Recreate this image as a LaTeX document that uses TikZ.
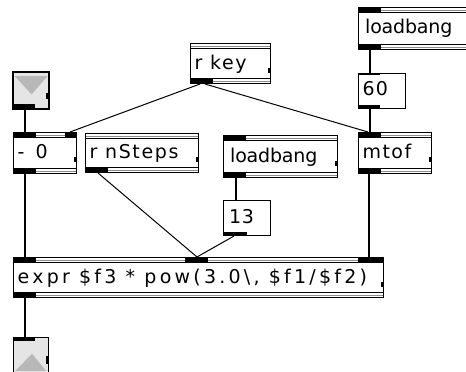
\documentclass[tikz,border=0pt]{standalone}
\usepackage{fontspec}
\newfontfamily\maxfont{DejaVu Sans}
\usetikzlibrary{calc}
\definecolor{bandgrey}{gray}{0.55}
\definecolor{iofill}{gray}{0.90}
\definecolor{iotri}{gray}{0.72}
\tikzset{
  objbox/.style={draw=black, line width=1pt, fill=white, anchor=north west, inner sep=0pt,
    path picture={
      \draw[bandgrey, line width=0.8pt] ([yshift=-2.5pt]path picture bounding box.north west) -- ([yshift=-2.5pt]path picture bounding box.north east);
      \draw[black, line width=0.9pt] ([yshift=-5pt]path picture bounding box.north west) -- ([yshift=-5pt]path picture bounding box.north east);
      \draw[bandgrey, line width=0.8pt] ([yshift=2.5pt]path picture bounding box.south west) -- ([yshift=2.5pt]path picture bounding box.south east);
      \draw[black, line width=0.9pt] ([yshift=5pt]path picture bounding box.south west) -- ([yshift=5pt]path picture bounding box.south east);
    }},
  numbox/.style={draw=black, line width=1pt, fill=white, anchor=north west, inner sep=0pt},
  iobox/.style={draw=black, line width=1.2pt, fill=iofill, anchor=north west, inner sep=0pt},
  lbl/.style={anchor=base west, inner sep=0pt, font={\maxfont\fontsize{19pt}{21pt}\selectfont}},
  wire/.style={draw=black, line width=1.3pt},
  diag/.style={draw=black, line width=1pt},
}
\newcommand\mobj[7]{%
  \node[objbox, minimum width=#4, minimum height=#5] (#1) at (#2,#3) {};
  \fill ($(#1.north east)!0.6!(#1.south east)+(-3.5,0)$) rectangle ($(#1.north east)!0.72!(#1.south east)$);
  \fill (#1.south west) rectangle ++(23,-5.5);
  \node[lbl] (#1-t) at ([xshift=4.5pt,yshift=-5.5pt]#1.west) {\addfontfeature{LetterSpace=#6}#7};
}
\newcommand\minlet[3]{\fill ([xshift=#2pt]#1.north west) rectangle ++(#3,5);}
\begin{document}
\begin{tikzpicture}[x=1pt,y=-1pt]
\fill[white] (0,0) rectangle (466,372);
\useasboundingbox (0,0) rectangle (466,372);
% objects
\mobj{minus}{13}{132}{63}{41}{26}{- 0}
\minlet{minus}{0}{23}
\minlet{minus}{52}{11}
\mobj{rns}{85}{133}{113}{39}{8.5}{r nSteps}
\mobj{rkey}{190}{43}{80}{40}{8.6}{r key}
\mobj{lbtop}{358}{7}{120}{42}{-1}{\hspace{2.5pt}loadbang}
\minlet{lbtop}{0}{23}
\mobj{mtof}{358}{132}{73}{41}{7.5}{mtof}
\minlet{mtof}{0}{23}
\mobj{lbmid}{223}{135}{114}{42}{-1}{\hspace{2.5pt}loadbang}
\minlet{lbmid}{0}{23}
\mobj{expr}{13}{257}{370}{40}{17}{expr \$f3 * pow(3.0\textbackslash, \$f1/\$f2)}
\minlet{expr}{0}{23}
\minlet{expr}{172}{23}
\minlet{expr}{345}{25}
% number boxes
\node[numbox, minimum width=47, minimum height=35] (n60) at (358,73) {};
\fill (n60.south west) rectangle ++(22,-4);
\fill (n60.north west) rectangle ++(22,1.5);
\node[lbl] (n60-t) at ([xshift=4.5pt,yshift=-4.5pt]n60.west) {\addfontfeature{LetterSpace=6}60};
\node[numbox, minimum width=47, minimum height=35] (n13) at (223,200) {};
\fill (n13.south west) rectangle ++(24,-4);
\node[lbl] (n13-t) at ([xshift=6pt,yshift=-5.5pt]n13.west) {\addfontfeature{LetterSpace=3}13};
% inlet object
\node[iobox, minimum width=35, minimum height=36] (inl) at (13,72) {};
\fill[iotri] ([shift={(1.5,4)}]inl.north west) -- ($(inl.north)!0.6!(inl.south)+(0.5,0)$) -- ([shift={(-1.5,4)}]inl.north east) -- cycle;
\draw[line width=1.2pt] (inl.north west) rectangle (inl.south east);
\fill (inl.south west) rectangle ++(22,-5);
\fill ($(inl.north east)!0.56!(inl.south east)+(-3.5,0)$) rectangle ($(inl.north east)!0.72!(inl.south east)$);
% outlet object
\node[iobox, minimum width=35, minimum height=36] (outl) at (13,337) {};
\fill[iotri] ([shift={(2,-3)}]outl.south west) -- ($(outl.north)!0.45!(outl.south)+(1,0)$) -- ([shift={(-3,-3)}]outl.south east) -- cycle;
\fill (outl.north west) rectangle ++(22,3.5);
\fill ($(outl.north east)!0.5!(outl.south east)+(-3.5,0)$) rectangle ($(outl.north east)!0.72!(outl.south east)$);
% connections
\draw[wire] ([xshift=12pt]inl.south west) -- ([xshift=12pt]minus.north west);
\draw[diag] ([xshift=10pt]rkey.south west) -- ([xshift=-7pt]minus.north east);
\draw[diag] ([xshift=15pt]rkey.south west) -- ([xshift=10pt]mtof.north west);
\draw[wire] ([xshift=12pt]lbtop.south west) -- ([xshift=12pt]n60.north west);
\draw[wire] ([xshift=12pt]n60.south west) -- ([xshift=12pt]mtof.north west);
\draw[wire] ([xshift=12pt]minus.south west) -- ([xshift=12pt]expr.north west);
\draw[diag] ([xshift=13pt]rns.south west) -- ([xshift=184pt]expr.north west);
\draw[wire] ([xshift=13pt]lbmid.south west) -- ([xshift=13pt]n13.north west);
\draw[diag] ([xshift=11pt]n13.south west) -- ([xshift=184pt]expr.north west);
\draw[wire] ([xshift=11pt]mtof.south west) -- ([xshift=356pt]expr.north west);
\draw[wire] ([xshift=12pt]expr.south west) -- ([xshift=12pt]outl.north west);
\end{tikzpicture}
\end{document}
